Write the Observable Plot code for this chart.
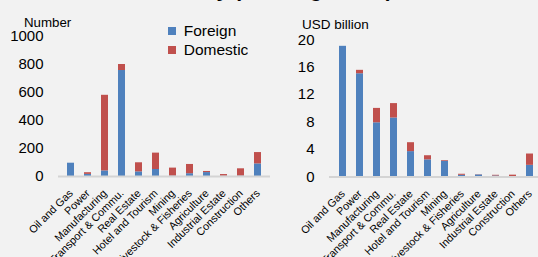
<!DOCTYPE html>
<html><head><meta charset="utf-8">
<script src="https://cdn.jsdelivr.net/npm/d3@7"></script>
<script src="https://cdn.jsdelivr.net/npm/@observablehq/plot@0.6"></script>
<style>
html,body{margin:0;padding:0;background:#f2f2f2;overflow:hidden;}
#wrap{position:relative;width:538px;height:257px;overflow:hidden;font-family:"Liberation Sans",Arial,sans-serif;color:#000;}
.abs{position:absolute;white-space:nowrap;}
</style></head><body><div id="wrap"></div>
<script>
const categories = ["Oil and Gas","Power","Manufacturing","Transport & Commu.","Real Estate","Hotel and Tourism","Mining","Livestock & Fisheries","Agriculture","Industrial Estate","Construction","Others"];
const series = ["Foreign","Domestic"];
const seriesColors = ["#4F81BD","#C0504D"];
const numberForeign = [95, 15, 40, 757, 33, 50, 3, 20, 28, 2, 3, 90];
const numberDomestic = [0, 12, 540, 43, 65, 117, 57, 66, 8, 12, 52, 81];
const usdForeign = [19.05, 15.05, 7.9, 8.6, 3.7, 2.5, 2.3, 0.25, 0.3, 0.15, 0.02, 1.7];
const usdDomestic = [0, 0.5, 2.1, 2.1, 1.3, 0.6, 0.1, 0.15, 0.03, 0.1, 0.25, 1.65];
const numberTicks = [0, 200, 400, 600, 800, 1000];
const usdTicks = [0, 4, 8, 12, 16, 20];
const titleText = "Industry (Existing Stock)";
const leftUnit = "Number";
const rightUnit = "USD billion";

const wrap = document.getElementById("wrap");
const font = '"Liberation Sans", Arial, sans-serif';

function rows(fv, dv) {
  const out = [];
  categories.forEach((c, i) => out.push({cat: c, series: "Foreign", v: fv[i]}));
  categories.forEach((c, i) => out.push({cat: c, series: "Domestic", v: dv[i]}));
  return out;
}

function panel(data, ticks, domain, opts) {
  return Plot.plot({
    width: opts.width, height: 257,
    marginLeft: opts.ml, marginRight: 0, marginTop: opts.mt, marginBottom: opts.mb,
    style: {background: "transparent", fontFamily: font, color: "#000", overflow: "visible"},
    x: {domain: categories, paddingInner: 0.6, paddingOuter: 0.3, align: 0.5},
    y: {domain: domain},
    color: {domain: series, range: seriesColors},
    marks: [
      Plot.barY(data, {x: "cat", y: "v", fill: "series", order: series}),
      Plot.ruleY([0], {stroke: "#d4d4d4", strokeWidth: 2}),
      Plot.axisY({ticks: ticks, tickFormat: d => String(d), tickSize: 0, tickPadding: 15, fontSize: 15, label: null}),
      Plot.axisX({tickRotate: -45, tickSize: 0, tickPadding: 6, dx: 0, dy: 9, fontSize: 10.8, label: null})
    ]
  });
}

const left = panel(rows(numberForeign, numberDomestic), numberTicks, [0, 1000], {width: 270, ml: 58, mt: 36, mb: 81});
left.style.position = "absolute"; left.style.left = "0px"; left.style.top = "0px";
wrap.appendChild(left);

const right = panel(rows(usdForeign, usdDomestic), usdTicks, [0, 20], {width: 273, ml: 59, mt: 39.3, mb: 80.5});
right.style.position = "absolute"; right.style.left = "270px"; right.style.top = "0px";
wrap.appendChild(right);

function addText(txt, css) {
  const d = document.createElement("div");
  d.className = "abs"; d.textContent = txt;
  Object.assign(d.style, css);
  wrap.appendChild(d);
  return d;
}
addText(titleText, {left: "0px", width: "538px", textAlign: "center", top: "-21px", fontSize: "21px", lineHeight: "21px", fontWeight: "bold"});
addText(leftUnit, {left: "24px", top: "15px", fontSize: "13.3px", lineHeight: "16px"});
addText(rightUnit, {left: "302px", top: "17px", fontSize: "13.5px", lineHeight: "16px"});

const legend = Plot.legend({
  color: {domain: series, range: seriesColors},
  legend: "swatches", columns: 1, swatchSize: 8,
  style: {fontFamily: font, fontSize: "15.5px", background: "transparent", color: "#000"}
});
legend.style.position = "absolute"; legend.style.left = "168px"; legend.style.top = "22px";
wrap.appendChild(legend);
</script>
</body></html>
